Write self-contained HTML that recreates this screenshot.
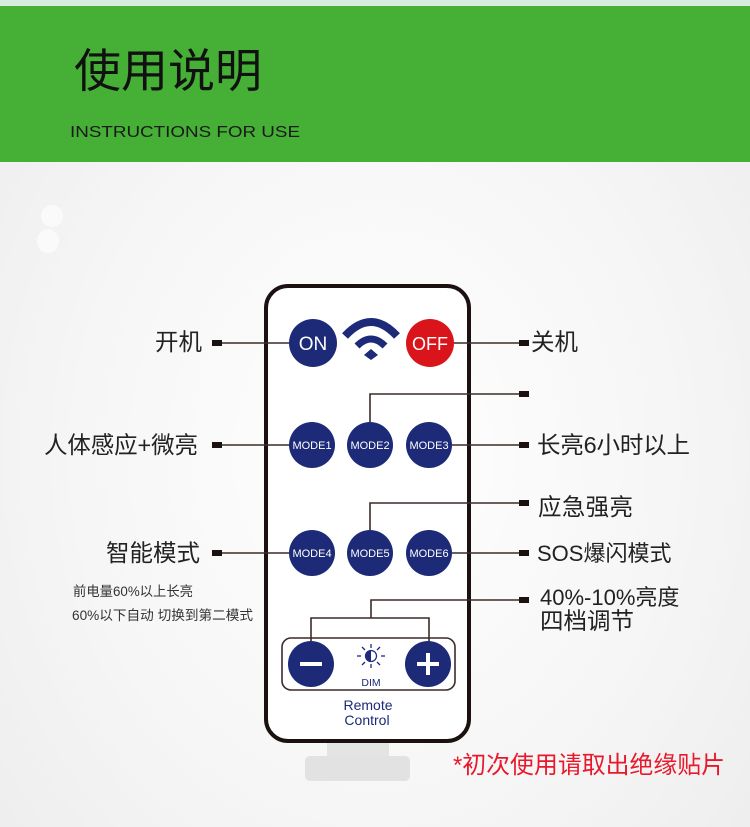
<!DOCTYPE html>
<html><head><meta charset="utf-8"><style>
html,body{margin:0;padding:0;}
body{width:750px;height:827px;overflow:hidden;background:radial-gradient(ellipse at 50% 55%,#ffffff 0%,#f6f6f6 55%,#ececec 100%);}
svg{display:block}
</style></head><body>
<svg width="750" height="827" viewBox="0 0 750 827" xmlns="http://www.w3.org/2000/svg" font-family="'Liberation Sans','Noto Sans CJK SC',sans-serif">
<rect x="0" y="0" width="750" height="6" fill="#d6ece0"/>
<rect x="0" y="6" width="750" height="156" fill="#45b035"/>
<text x="74" y="87" font-size="46" fill="#111" textLength="188" lengthAdjust="spacingAndGlyphs">使用说明</text>
<text x="70" y="137" font-size="16" fill="#1a1a1a" textLength="230" lengthAdjust="spacingAndGlyphs">INSTRUCTIONS FOR USE</text>
<ellipse cx="52" cy="216" rx="11" ry="11" fill="#fafafa"/>
<ellipse cx="48" cy="241" rx="11" ry="12" fill="#fafafa"/>

<rect x="327" y="740" width="62" height="20" fill="#e4e4e4"/>
<rect x="305" y="756" width="105" height="25" rx="5" fill="#e2e2e2"/>
<rect x="266" y="286" width="203" height="455" rx="22" fill="#fff" stroke="#1a1110" stroke-width="4"/>

<g stroke="#3a2c28" stroke-width="1.6" fill="none">
<line x1="222" y1="343" x2="290" y2="343"/>
<line x1="453" y1="343" x2="520" y2="343"/>
<polyline points="370,422 370,394 520,394"/>
<line x1="222" y1="445" x2="290" y2="445"/>
<line x1="452" y1="445" x2="520" y2="445"/>
<polyline points="370,530 370,503 520,503"/>
<line x1="222" y1="553" x2="290" y2="553"/>
<line x1="452" y1="553" x2="520" y2="553"/>
<polyline points="371,618 371,600 520,600"/>
<polyline points="311,641 311,618 429,618 429,641"/>
</g>
<g fill="#1a1110">
<rect x="212" y="340" width="10" height="6"/>
<rect x="519" y="340" width="10" height="6"/>
<rect x="519" y="391" width="10" height="6"/>
<rect x="212" y="442" width="10" height="6"/>
<rect x="519" y="442" width="10" height="6"/>
<rect x="519" y="500" width="10" height="6"/>
<rect x="212" y="550" width="10" height="6"/>
<rect x="519" y="550" width="10" height="6"/>
<rect x="519" y="597" width="10" height="6"/>
</g>

<circle cx="313" cy="343" r="24" fill="#1c2a78"/>
<text x="313" y="350" font-size="19" fill="#fff" text-anchor="middle">ON</text>
<circle cx="430" cy="343" r="24" fill="#d9141b"/>
<text x="430" y="350" font-size="18" fill="#fff" text-anchor="middle">OFF</text>
<g fill="none" stroke="#1c2a78" stroke-linecap="butt">
<path d="M345,336 Q371,308 397,336" stroke-width="8"/>
<path d="M357,346 Q371,332 385,346" stroke-width="7"/>
</g>
<path d="M364,355 L371,349 L378,355 L371,360 Z" fill="#1c2a78"/>

<g fill="#1c2a78">
<circle cx="312" cy="445" r="23"/><circle cx="370" cy="445" r="23"/><circle cx="429" cy="445" r="23"/>
<circle cx="312" cy="553" r="23"/><circle cx="370" cy="553" r="23"/><circle cx="429" cy="553" r="23"/>
</g>
<g font-size="11" fill="#fff" text-anchor="middle">
<text x="312" y="449">MODE1</text><text x="370" y="449">MODE2</text><text x="429" y="449">MODE3</text>
<text x="312" y="557">MODE4</text><text x="370" y="557">MODE5</text><text x="429" y="557">MODE6</text>
</g>

<rect x="282" y="638" width="173" height="52" rx="9" fill="none" stroke="#3a2c28" stroke-width="1.6"/>
<circle cx="311" cy="664" r="23" fill="#1c2a78"/>
<rect x="300" y="662" width="22" height="4" fill="#fff"/>
<circle cx="428" cy="664" r="23" fill="#1c2a78"/>
<rect x="417" y="662" width="22" height="4" fill="#fff"/><rect x="426" y="653" width="4" height="22" fill="#fff"/>
<g stroke="#1c2a78" stroke-width="1.3">
<line x1="371" y1="644" x2="371" y2="648"/><line x1="371" y1="664" x2="371" y2="668"/>
<line x1="357" y1="656" x2="361" y2="656"/><line x1="381" y1="656" x2="385" y2="656"/>
<line x1="362" y1="647" x2="365" y2="650"/><line x1="377" y1="662" x2="380" y2="665"/>
<line x1="380" y1="647" x2="377" y2="650"/><line x1="365" y1="662" x2="362" y2="665"/>
</g>
<circle cx="371" cy="656" r="5.5" fill="none" stroke="#1c2a78" stroke-width="1.2"/>
<path d="M371,650.5 A5.5,5.5 0 0 0 371,661.5 Z" fill="#1c2a78"/>
<text x="371" y="686" font-size="10.5" fill="#1c2a78" text-anchor="middle">DIM</text>
<text x="368" y="710" font-size="14" fill="#1c2a78" text-anchor="middle">Remote</text>
<text x="367" y="725" font-size="14" fill="#1c2a78" text-anchor="middle">Control</text>

<g font-size="23.5" fill="#222" lengthAdjust="spacingAndGlyphs">
<text x="155" y="350" textLength="47">开机</text>
<text x="44" y="453" textLength="154">人体感应+微亮</text>
<text x="106" y="561" textLength="94">智能模式</text>
<text x="531" y="350" textLength="47">关机</text>
<text x="537" y="453" textLength="153">长亮6小时以上</text>
<text x="538" y="515" textLength="95">应急强亮</text>
<text x="537" y="561" font-size="22">SOS爆闪模式</text>
<text x="540" y="605" font-size="22">40%-10%亮度</text>
<text x="540" y="629" textLength="94">四档调节</text>
</g>
<g font-size="13.4" fill="#333">
<text x="73" y="596" textLength="120" lengthAdjust="spacingAndGlyphs">前电量60%以上长亮</text>
<text x="72" y="620" textLength="181" lengthAdjust="spacingAndGlyphs">60%以下自动 切换到第二模式</text>
</g>
<text x="453" y="773" font-size="24" fill="#e8192c" textLength="272" lengthAdjust="spacingAndGlyphs">*初次使用请取出绝缘贴片</text>
</svg>
</body></html>
